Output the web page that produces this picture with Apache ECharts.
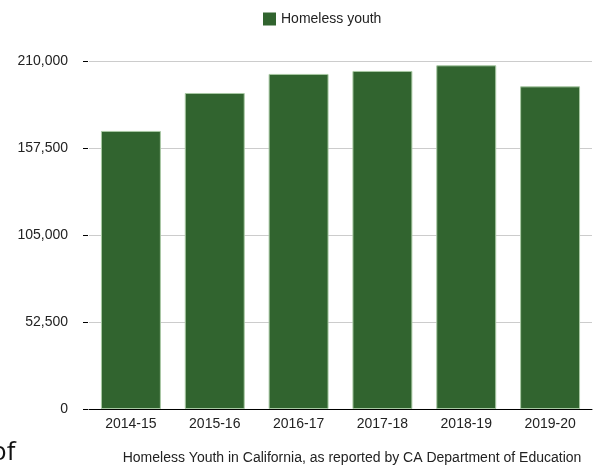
<!DOCTYPE html>
<html>
<head>
<meta charset="utf-8">
<script src="https://cdn.jsdelivr.net/npm/echarts@6/dist/echarts.min.js"></script>
<style>
html,body{margin:0;padding:0;background:#fff;}
#c{width:594px;height:466px;}
</style>
</head>
<body>
<div id="c"></div>
<script>
const categories = ['2014-15','2015-16','2016-17','2017-18','2018-19','2019-20'];
const homelessYouth = [167800, 190700, 202200, 204000, 207400, 194700];
const yTicks = [0, 52500, 105000, 157500, 210000];

const chart = echarts.init(document.getElementById('c'));
const font = 'Liberation Sans, Arial, sans-serif';
chart.setOption({
  animation: false,
  textStyle: { fontFamily: font },
  legend: {
    top: 7, left: 258,
    icon: 'rect',
    itemWidth: 13, itemHeight: 13, itemGap: 8,
    itemStyle: { borderWidth: 0 },
    textStyle: { fontSize: 14, color: '#222', fontFamily: font },
    data: ['Homeless youth']
  },
  title: {
    text: 'Homeless Youth in California, as reported by CA Department of Education',
    left: 347, textAlign: 'center', top: 446,
    textStyle: { fontSize: 14, fontWeight: 'normal', color: '#222', fontFamily: font }
  },
  grid: { left: 89, right: 2, top: 61, bottom: 57, containLabel: false },
  xAxis: {
    type: 'category', data: categories,
    axisLine: { lineStyle: { color: '#000', width: 1 } },
    axisTick: { show: false },
    axisLabel: { fontSize: 14, color: '#222', margin: 8, fontFamily: font }
  },
  yAxis: {
    type: 'value', min: yTicks[0], max: yTicks[yTicks.length-1], interval: yTicks[1]-yTicks[0],
    offset: 1,
    axisLine: { show: false },
    axisTick: { show: true, length: 5, lineStyle: { color: '#000' } },
    splitLine: { lineStyle: { color: '#cccccc' } },
    axisLabel: { fontSize: 14, color: '#222', margin: 20, fontFamily: font,
      formatter: v => v.toLocaleString('en-US') }
  },
  series: [{
    name: 'Homeless youth', type: 'bar', data: homelessYouth,
    barCategoryGap: '28.5%',
    itemStyle: { color: '#31642f', borderColor: '#a9c9a4', borderWidth: 1 }
  }],
  graphic: [{
    type: 'text', left: -9, top: 440,
    style: { text: 'of', fontSize: 26, fill: '#111', fontFamily: 'Open Sans, sans-serif' }
  }]
});
</script>
</body>
</html>
